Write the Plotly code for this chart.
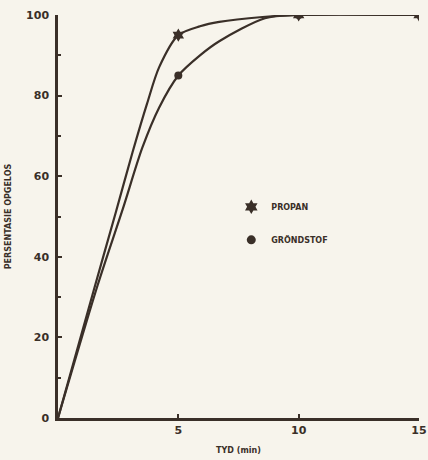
import plotly.graph_objects as go

# Curve points (time in min, percentage dissolved)
propan_t = [0, 1.5, 2.4, 3.1, 3.7, 4.2, 5.0, 5.9, 6.7, 8.5, 10.0, 15.0]
propan_v = [0, 32, 51, 66, 78, 87, 95, 97.2, 98.3, 99.5, 100, 100]
grond_t = [0, 1.65, 2.7, 3.5, 4.2, 5.0, 5.9, 6.7, 8.6, 10.0, 15.0]
grond_v = [0, 33, 52, 67, 77, 85, 90, 93.5, 99.2, 100, 100]

# Marked measurement points
propan_mt = [5, 10, 15]
propan_mv = [95, 100, 100]
grond_mt = [5, 10]
grond_mv = [85, 100]

x_ticks = [0, 5, 10, 15]
x_labels = ["", "5", "10", "15"]
y_ticks = [0, 20, 40, 60, 80, 100]

ink = "#3a2f28"
bg = "#f7f4ec"

fig = go.Figure()
fig.add_trace(go.Scatter(x=propan_t, y=propan_v, mode="lines",
                         line=dict(color=ink, width=2.2, shape="spline", smoothing=0.8),
                         showlegend=False, hoverinfo="skip"))
fig.add_trace(go.Scatter(x=grond_t, y=grond_v, mode="lines",
                         line=dict(color=ink, width=2.2, shape="spline", smoothing=0.8),
                         showlegend=False, hoverinfo="skip"))
fig.add_trace(go.Scatter(x=propan_mt, y=propan_mv, mode="markers",
                         marker=dict(symbol="hexagram", size=10, color=ink),
                         showlegend=False))
fig.add_trace(go.Scatter(x=grond_mt, y=grond_mv, mode="markers",
                         marker=dict(symbol="circle", size=8, color=ink),
                         showlegend=False))
# legend entries
fig.add_trace(go.Scatter(x=[None], y=[None], mode="markers", name="PROPAN",
                         marker=dict(symbol="hexagram", size=11, color=ink),
                         legendgroup="a"))
fig.add_trace(go.Scatter(x=[None], y=[None], mode="markers", name="GRÖNDSTOF",
                         marker=dict(symbol="circle", size=9, color=ink),
                         legendgroup="b"))

fig.update_layout(
    width=428, height=460,
    margin=dict(l=58, r=9, t=15, b=42, autoexpand=False),
    paper_bgcolor=bg, plot_bgcolor=bg,
    font=dict(family="DejaVu Sans", color=ink),
    legend=dict(x=0.48, y=0.56, xanchor="left", yanchor="top",
                bgcolor="rgba(0,0,0,0)", tracegroupgap=14,
                font=dict(size=8, weight="bold"), itemwidth=30),
    xaxis=dict(range=[0, 15], tickvals=x_ticks, ticktext=x_labels, automargin=False,
               showgrid=False, zeroline=False, showline=True, linecolor=ink, linewidth=2.5,
               ticks="inside", ticklen=4, tickwidth=2, tickcolor=ink,
               ticklabeloverflow="allow",
               tickfont=dict(size=11, weight="bold"),
               title=dict(text="TYD (min)", font=dict(size=8, weight="bold"), standoff=12)),
    yaxis=dict(range=[0, 100], tickvals=y_ticks, automargin=False,
               showgrid=False, zeroline=False, showline=True, linecolor=ink, linewidth=2.5,
               ticks="inside", ticklen=4, tickwidth=2, tickcolor=ink,
               minor=dict(dtick=10, ticks="inside", ticklen=3, tickwidth=2, tickcolor=ink),
               tickfont=dict(size=11, weight="bold"), ticklabelstandoff=4,
               title=dict(text="PERSENTASIE OPGELOS", font=dict(size=8, weight="bold"), standoff=14)),
)

fig.write_html("out.html")
